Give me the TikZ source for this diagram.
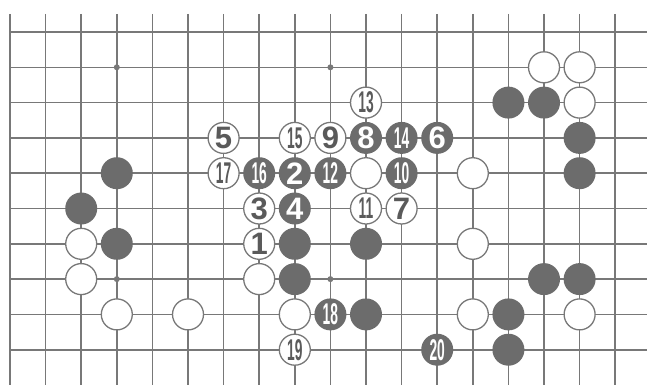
\documentclass[tikz,border=0pt]{standalone}
\usepackage{fontspec}
\setmainfont{Liberation Sans}
\definecolor{linegray}{RGB}{120,120,120}
\definecolor{stonegray}{RGB}{108,108,108}
\definecolor{numgray}{RGB}{90,90,90}
\newcommand\onedig[1]{\fontsize{31}{31}\selectfont\bfseries #1}
\newcommand\twodig[1]{\fontsize{30}{30}\selectfont\bfseries\scalebox{0.46}[1]{#1}}
\tikzset{
  gridline/.style={draw=linegray, line width=1.6pt},
  edgeline/.style={draw=linegray, line width=2.8pt},
  bstone/.style={circle, fill=stonegray, minimum size=32pt, inner sep=0pt, text=white},
  wstone/.style={circle, draw=linegray, line width=1.3pt, fill=white, minimum size=31pt, inner sep=0pt, text=numgray},
  hoshi/.style={circle, fill=linegray, minimum size=6pt, inner sep=0pt}
}
\begin{document}
\begin{tikzpicture}[x=35.6pt, y=-35.3pt]
\useasboundingbox (-0.2809,-0.9065) rectangle (17.893,10.0);
% grid
\foreach \i in {1,...,17} \draw[gridline] (\i,-0.51) -- (\i,10);
\foreach \j in {0,...,9} \draw[gridline] (0,\j) -- (17.893,\j);
\draw[edgeline] (0,-0.51) -- (0,10);
% star points
\node[hoshi] (h1) at (3,1) {};
\node[hoshi] (h2) at (9,1) {};
\node[hoshi] (h3) at (3,7) {};
\node[hoshi] (h4) at (9,7) {};
% black stones
\node[bstone] (b1) at (3,4) {};
\node[bstone] (b2) at (2,5) {};
\node[bstone] (b3) at (3,6) {};
\node[bstone] (b4) at (8,6) {};
\node[bstone] (b5) at (8,7) {};
\node[bstone] (b6) at (10,6) {};
\node[bstone] (b7) at (10,8) {};
\node[bstone] (b8) at (14,2) {};
\node[bstone] (b9) at (15,2) {};
\node[bstone] (b10) at (16,3) {};
\node[bstone] (b11) at (16,4) {};
\node[bstone] (b12) at (15,7) {};
\node[bstone] (b13) at (16,7) {};
\node[bstone] (b14) at (14,8) {};
\node[bstone] (b15) at (14,9) {};
% white stones
\node[wstone] (w1) at (10,4) {};
\node[wstone] (w2) at (13,4) {};
\node[wstone] (w3) at (15,1) {};
\node[wstone] (w4) at (16,1) {};
\node[wstone] (w5) at (16,2) {};
\node[wstone] (w6) at (2,6) {};
\node[wstone] (w7) at (2,7) {};
\node[wstone] (w8) at (7,7) {};
\node[wstone] (w9) at (3,8) {};
\node[wstone] (w10) at (5,8) {};
\node[wstone] (w11) at (8,8) {};
\node[wstone] (w12) at (13,6) {};
\node[wstone] (w13) at (13,8) {};
\node[wstone] (w14) at (16,8) {};
% numbered white
\node[wstone] (m1) at (7,6) {\onedig{1}};
\node[wstone] (m3) at (7,5) {\onedig{3}};
\node[wstone] (m5) at (6,3) {\onedig{5}};
\node[wstone] (m7) at (11,5) {\onedig{7}};
\node[wstone] (m9) at (9,3) {\onedig{9}};
\node[wstone] (m11) at (10,5) {\twodig{11}};
\node[wstone] (m13) at (10,2) {\twodig{13}};
\node[wstone] (m15) at (8,3) {\twodig{15}};
\node[wstone] (m17) at (6,4) {\twodig{17}};
\node[wstone] (m19) at (8,9) {\twodig{19}};
% numbered black
\node[bstone] (m2) at (8,4) {\onedig{2}};
\node[bstone] (m4) at (8,5) {\onedig{4}};
\node[bstone] (m6) at (12,3) {\onedig{6}};
\node[bstone] (m8) at (10,3) {\onedig{8}};
\node[bstone] (m10) at (11,4) {\twodig{10}};
\node[bstone] (m12) at (9,4) {\twodig{12}};
\node[bstone] (m14) at (11,3) {\twodig{14}};
\node[bstone] (m16) at (7,4) {\twodig{16}};
\node[bstone] (m18) at (9,8) {\twodig{18}};
\node[bstone] (m20) at (12,9) {\twodig{20}};
\end{tikzpicture}
\end{document}
